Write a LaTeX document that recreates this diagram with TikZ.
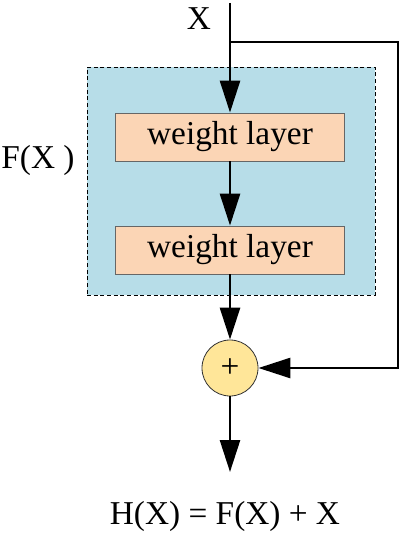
\documentclass[tikz,border=0pt]{standalone}
\usepackage{fontspec}
\setmainfont{Liberation Serif}
\usepackage{xcolor}
\definecolor{skyblue}{HTML}{B7DDE8}
\definecolor{peach}{HTML}{FBD5B5}
\definecolor{sand}{HTML}{FFE699}
\usetikzlibrary{calc}
\usetikzlibrary{arrows.meta,positioning}
\def\scale{0.75}

\begin{document}
\begin{tikzpicture}[x=\scale pt, y=-\scale pt,
  font=\fontsize{25}{30}\selectfont,
  flow/.style={line width=2pt, -{Triangle[length=24pt,width=15pt]}},
  layer/.style={draw=black!60, line width=0.6pt, fill=peach, minimum width=172pt, minimum height=36pt, inner sep=0pt},
  sumnode/.style={circle, draw=black!80, line width=0.6pt, fill=sand, minimum size=42pt, inner sep=0pt}]

\useasboundingbox (0, 0) rectangle (403, 535);

% RESIDUAL BLOCK
% block background
\node[draw=black, dashed, dash pattern=on 3pt off 2pt, line width=0.6pt, fill=skyblue,
  minimum width=216pt, minimum height=171pt, inner sep=0pt] (block) at (231, 181) {};
\node (fx) at (38, 160) {F(X )};
% layers
\node[layer] (layer1) at (230, 137) {weight layer};
\node[layer] (layer2) at (230, 250) {weight layer};
% addition
\node[sumnode] (sum) at (230, 368) {+};

% INPUT
\coordinate (in) at (230, 3);
\node (x) at (199, 19) {X};
\coordinate (split) at (230, 42);
\coordinate (turn) at (398, 368);

% OUTPUT
\coordinate (out) at (230, 472);
\node (hx) at (225, 516) {H(X) = F(X) + X};

% ARROWS
\draw[flow] (in) -- (layer1);
\draw[flow] (layer1) -- (layer2);
\draw[flow] (layer2) -- (sum);
\draw[flow] (sum) -- (out);
% shortcut
\draw[flow] (split) -| (turn) -- (sum);

\end{tikzpicture}
\end{document}
